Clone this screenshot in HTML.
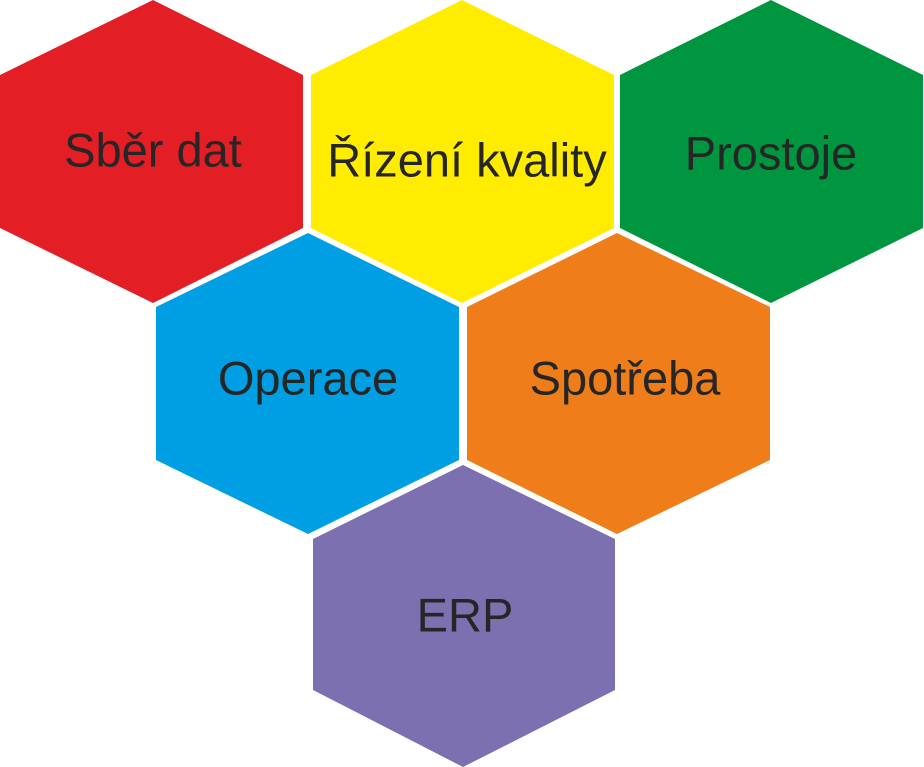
<!DOCTYPE html>
<html><head><meta charset="utf-8"><style>
html,body{margin:0;padding:0;background:#fff;width:924px;height:767px;overflow:hidden}
svg text{font-family:"Liberation Sans",sans-serif;font-size:47px;fill:#262626;text-anchor:middle;dominant-baseline:central}
</style></head><body>
<svg width="924" height="767" viewBox="0 0 924 767">
<polygon points="153,0 303,75 303,228 153,303 0,228 0,75" fill="#e31e24"/>
<polygon points="462,0 614,75 614,228 462,303 311,228 311,75" fill="#ffec00"/>
<polygon points="771,0 923,75 923,228 771,303 620,228 620,75" fill="#009640"/>
<polygon points="308,233 459,307 459,460 308,534 156,460 156,307" fill="#009fe3"/>
<polygon points="617,233 770,307 770,460 617,534 467,460 467,307" fill="#ef7d1a"/>
<polygon points="463,465 615,539 615,690 463,767 313,690 313,539" fill="#7d70b0"/>
<text x="153" y="150">Sběr dat</text>
<text x="467" y="160">Řízení kvality</text>
<text x="771" y="153">Prostoje</text>
<text x="308" y="378">Operace</text>
<text x="625" y="378">Spotřeba</text>
<text x="465" y="615">ERP</text>
</svg>
</body></html>
